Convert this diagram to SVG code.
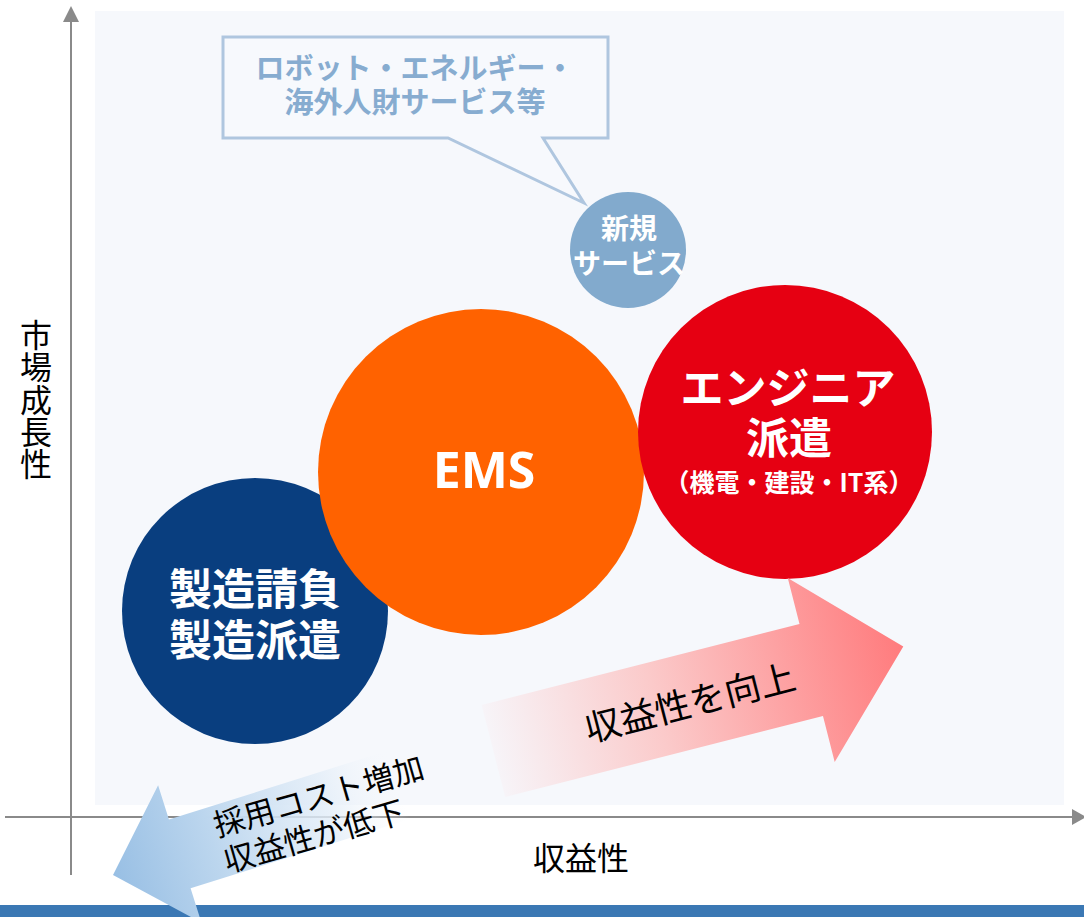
<svg xmlns="http://www.w3.org/2000/svg" width="1084" height="917" viewBox="0 0 1084 917">
  <style>
    .jp { font-family: "Noto Sans CJK JP", "Noto Sans", sans-serif; }
    .lbl { font-family: "Noto Sans CJK JP", sans-serif; font-weight: 400; fill: #000; }
    .wb { font-family: "Noto Sans CJK JP", sans-serif; font-weight: 700; fill: #fff; text-anchor: middle; }
    .axis { stroke: #8a8a8a; stroke-width: 2; fill: none; }
  </style>
  <defs>
    <linearGradient id="gPink" gradientUnits="userSpaceOnUse" x1="0" y1="0" x2="423" y2="0">
      <stop offset="0" stop-color="#f7f4f8"/>
      <stop offset="0.4" stop-color="#fbcaca"/>
      <stop offset="1" stop-color="#ff7b7d"/>
    </linearGradient>
    <linearGradient id="gBlue" gradientUnits="userSpaceOnUse" x1="0" y1="0" x2="300" y2="0">
      <stop offset="0" stop-color="#98bfe4"/>
      <stop offset="0.35" stop-color="#bcd6ee"/>
      <stop offset="0.75" stop-color="#e2edf8" stop-opacity="0.8"/>
      <stop offset="1" stop-color="#f5f8fc" stop-opacity="0"/>
    </linearGradient>
  </defs>

  <rect x="0" y="0" width="1084" height="917" fill="#ffffff"/>
  <rect id="panel" x="95" y="11" width="969" height="794" fill="#f6f8fc"/>

  <g id="axes">
    <line class="axis" x1="71" y1="20" x2="71" y2="875"/>
    <polygon points="71,6 79,22 63,22" fill="#8a8a8a"/>
    <line class="axis" x1="5" y1="817" x2="1074" y2="817"/>
    <polygon points="1086,817 1072,809 1072,825" fill="#8a8a8a"/>
  </g>

  <rect id="bottom-bar" x="0" y="905" width="1084" height="12" fill="#3b78b4"/>

  <g id="y-label">
    <text class="lbl" x="36" y="319" font-size="32" writing-mode="tb" style="writing-mode: vertical-rl" letter-spacing="0.3">市場成長性</text>
  </g>
  <g id="x-label">
    <text class="lbl" x="581" y="870" font-size="32" text-anchor="middle">収益性</text>
  </g>

  <g id="callout">
    <path d="M223,37 H608 V138 H543 L584,203 L448,138 H223 Z" fill="#f7f9fd" stroke="#afc6df" stroke-width="3" stroke-linejoin="miter"/>
    <text class="jp" font-size="29" font-weight="700" fill="#87acd0" text-anchor="middle"><tspan x="415" y="79">ロボット・エネルギー・</tspan><tspan x="415" y="113">海外人財サービス等</tspan></text>
  </g>

  <g id="node-new-service">
    <circle cx="628" cy="250" r="58" fill="#82aacd"/>
    <text class="wb" font-size="28"><tspan x="629" y="238.5">新規</tspan><tspan x="629" y="273.5">サービス</tspan></text>
  </g>

  <g id="node-seizo">
    <circle cx="255" cy="611" r="133" fill="#093e7f"/>
    <text class="wb" font-size="43"><tspan x="255" y="605">製造請負</tspan><tspan x="255" y="656">製造派遣</tspan></text>
  </g>

  <g id="node-ems">
    <circle cx="481" cy="472" r="163" fill="#ff6200"/>
    <text x="484" y="488" font-family="'Noto Sans', 'Liberation Sans', sans-serif" font-weight="700" font-size="50" fill="#fff" text-anchor="middle">EMS</text>
  </g>

  <g id="node-engineer">
    <circle cx="785" cy="432" r="147" fill="#e60012"/>
    <text class="wb" font-size="43"><tspan x="788" y="404">エンジニア</tspan><tspan x="789" y="454">派遣</tspan><tspan x="789" y="492" font-size="25">（機電・建設・IT系）</tspan></text>
  </g>

  <g id="connectors">
    <g id="arrow-up" transform="translate(493.4,751) rotate(-14.3)">
      <polygon points="0,-47.5 328,-47.5 328,-95 423,0 328,95 328,47.5 0,47.5" fill="url(#gPink)"/>
    </g>
    <g transform="translate(690,702.5) rotate(-14.5)">
      <text class="lbl" x="0" y="13.5" font-size="36" text-anchor="middle">収益性を向上</text>
    </g>

    <g id="arrow-down" transform="translate(113,875) rotate(-17.5)">
      <polygon points="0,0 70,-72 70,-36 300,-36 300,36 70,36 70,72" fill="url(#gBlue)"/>
    </g>
    <g transform="translate(319,796) rotate(-16)">
      <text class="lbl" font-size="31"><tspan x="-109" y="11.5">採用コスト増加</tspan><tspan x="-109" y="48.5">収益性が低下</tspan></text>
    </g>
  </g>
</svg>
